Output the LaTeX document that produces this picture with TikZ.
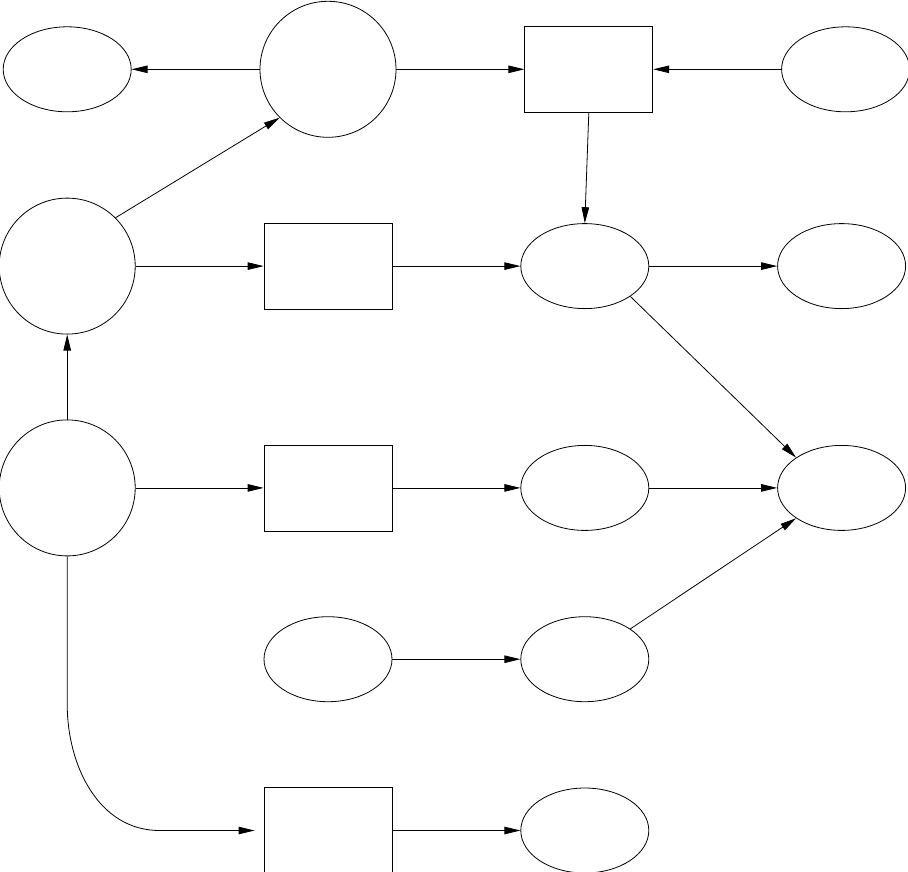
\documentclass[tikz,border=0pt]{standalone}
\usetikzlibrary{positioning, arrows.meta, shapes}

\begin{document}
\begin{tikzpicture}[x=1pt, y=-1pt, node distance=128pt, line width=0.8pt,
    circ/.style={draw, circle, minimum size=136pt, inner sep=0pt},
    oval/.style={draw, ellipse, minimum width=128pt, minimum height=85pt, inner sep=0pt},
    box/.style={draw, rectangle, minimum width=128pt, minimum height=86pt, inner sep=0pt},
    arr/.style={-{Triangle[length=16pt, width=7.5pt]}}]
                    \useasboundingbox (0,0) rectangle (908,871);

                    \node[circ] (12) at (328,69.3) {};
                    \node[oval] (11) [left=of 12] {};
                    \node[box] (13) [right=of 12] {};
                    \node[oval] (14) [right=of 13] {};

                    \node[box] (22) [below=85pt of 12] {};
                    \node[circ] (21) [left=of 22] {};
                    \node[oval] (23) [right=of 22] {};
                    \node[oval] (24) [right=of 23] {};

                    \node[circ] (31) [below=85pt of 21] {};
                    \node[box] (32) [right=of 31] {};
                    \node[oval] (33) [right=of 32] {};
                    \node[oval] (34) [right=of 33] {};

                    \node[oval] (42) [below=85pt of 32] {};
                    \node[oval] (43) [right=of 42] {};

                    \node[box] (52) [below=85pt of 42] {};
                    \node[oval] (53) [right=of 52] {};

                    \draw (12) edge[arr] (11);
                    \draw (12) edge[arr] (13);
                    \draw (14) edge[arr] (13);
                    \draw (13.south) edge[arr] (23.north);
                    \draw (21.north east) edge[arr] (12.south west);
                    \draw (21) edge[arr] (22);
                    \draw (22) edge[arr] (23);
                    \draw (23) edge[arr] (24);
                    \draw (23.south east) edge[arr] (34.north west);
                    \draw (31.north) edge[arr] (21.south);
                    \draw (31) edge[arr] (32);
                    \draw (32) edge[arr] (33);
                    \draw (33) edge[arr] (34);
                    \draw (42) edge[arr] (43);
                    \draw (43.north east) edge[arr] (34.south west);
                    \draw (52) edge[arr] (53);

                    \draw[arr, shorten >=9pt] (31.south) -- ++(0,148) to[out=-90, in=180] ([xshift=-104pt]52.west) -- (52.west);
                \end{tikzpicture}
\end{document}
